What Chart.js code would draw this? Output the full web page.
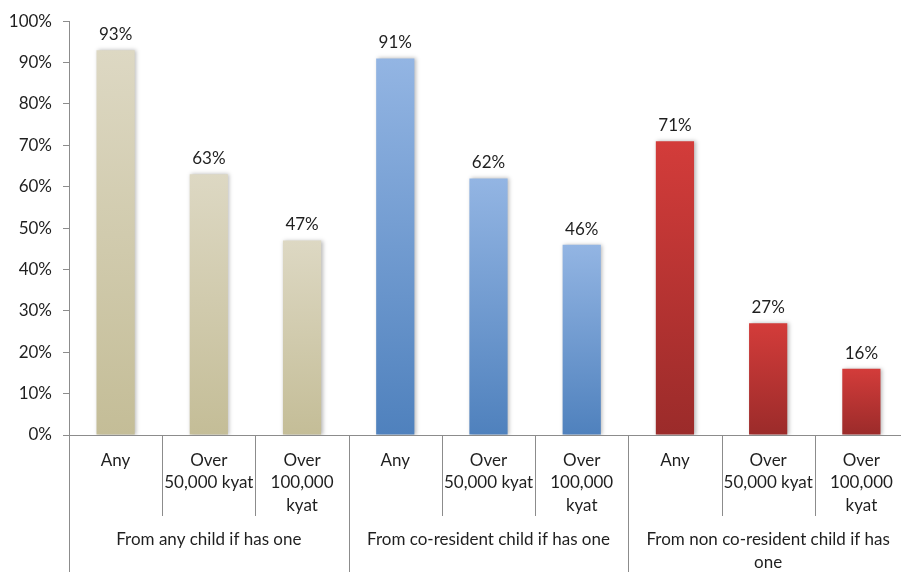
<!DOCTYPE html>
<html>
<head>
<meta charset="utf-8">
<script src="https://cdn.jsdelivr.net/npm/chart.js@4/dist/chart.umd.min.js"></script>
<style>
  html, body { margin: 0; padding: 0; background: #ffffff; overflow: hidden; }
  #wrap { width: 912px; height: 572px; position: relative; }
</style>
</head>
<body>
<div id="wrap"><canvas id="c"></canvas></div>
<script>
// ---- data ----
const subLabels = [
  ["Any"], ["Over", "50,000 kyat"], ["Over", "100,000", "kyat"],
  ["Any"], ["Over", "50,000 kyat"], ["Over", "100,000", "kyat"],
  ["Any"], ["Over", "50,000 kyat"], ["Over", "100,000", "kyat"]
];
const groupLabels = [
  ["From any child if has one"],
  ["From co-resident child if has one"],
  ["From non co-resident child if has", "one"]
];
const groupSize = 3;
const values = [93, 63, 47, 91, 62, 46, 71, 27, 16];
const yTicks = [0, 10, 20, 30, 40, 50, 60, 70, 80, 90, 100];

// styles
const groupGradients = [
  ["#ddd8c3", "#c4bd97"],
  ["#93b5e3", "#4f81bd"],
  ["#d33c3a", "#9b2b2a"]
];
const FONT = "Lato, 'Open Sans', sans-serif";
const TEXT = "#1f1f1f";
const AXIS = "#8c8c8c";

function barFill(ctx) {
  const chart = ctx.chart;
  const g = groupGradients[Math.floor(ctx.dataIndex / groupSize)];
  if (!chart.chartArea) return g[1];
  const y = chart.scales.y;
  const top = y.getPixelForValue(ctx.raw);
  const bot = y.getPixelForValue(0);
  const grad = chart.ctx.createLinearGradient(0, top, 0, bot);
  grad.addColorStop(0, g[0]);
  grad.addColorStop(1, g[1]);
  return grad;
}

const shadowPlugin = {
  id: 'shadow',
  beforeDatasetsDraw(chart) {
    const c = chart.ctx;
    c.save();
    c.shadowColor = 'rgba(0,0,0,0.28)';
    c.shadowBlur = 4;
    c.shadowOffsetX = 1.5;
    c.shadowOffsetY = 0;
  },
  afterDatasetsDraw(chart) {
    chart.ctx.restore();
  }
};

const labelPlugin = {
  id: 'valueLabels',
  afterDatasetsDraw(chart) {
    const c = chart.ctx;
    const meta = chart.getDatasetMeta(0);
    c.save();
    c.font = "17px " + FONT;
    c.fillStyle = TEXT;
    c.textAlign = 'center';
    c.textBaseline = 'bottom';
    meta.data.forEach((bar, i) => {
      c.fillText(values[i] + '%', bar.x, bar.y - 7);
    });
    c.restore();
  }
};

const groupAxisPlugin = {
  id: 'groupAxis',
  afterDraw(chart) {
    const c = chart.ctx;
    const area = chart.chartArea;
    const n = values.length;
    const w = (area.right - area.left) / n;
    c.save();
    c.strokeStyle = AXIS;
    c.lineWidth = 1;
    for (let i = 0; i <= n; i++) {
      const px = Math.round(area.left + i * w) + 0.5;
      const isGroup = i % groupSize === 0;
      c.beginPath();
      c.moveTo(px, area.bottom);
      c.lineTo(px, isGroup ? chart.height : 516);
      c.stroke();
    }
    c.font = "17px " + FONT;
    c.fillStyle = TEXT;
    c.textAlign = 'center';
    c.textBaseline = 'middle';
    groupLabels.forEach((lines, gi) => {
      const cx = area.left + (gi * groupSize + groupSize / 2) * w;
      lines.forEach((ln, li) => {
        c.fillText(ln, cx, 540 + li * 23);
      });
    });
    c.restore();
  }
};

new Chart(document.getElementById('c'), {
  type: 'bar',
  data: {
    labels: subLabels,
    datasets: [{
      data: values,
      backgroundColor: barFill,
      borderWidth: 0,
      categoryPercentage: 1.0,
      barPercentage: 0.41
    }]
  },
  options: {
    responsive: true,
    maintainAspectRatio: false,
    animation: false,
    events: [],
    layout: { padding: { top: 18, right: 4, left: 0, bottom: 0 } },
    plugins: { legend: { display: false }, tooltip: { enabled: false } },
    scales: {
      x: {
        offset: true,
        grid: { display: true, drawOnChartArea: false, drawTicks: false },
        border: { display: true, color: AXIS, width: 1 },
        ticks: {
          color: TEXT,
          font: { family: FONT, size: 17, lineHeight: 1.33 },
          padding: 14,
          maxRotation: 0,
          autoSkip: false
        },
        afterFit(scale) { scale.height = 137; }
      },
      y: {
        min: 0,
        max: 100,
        afterBuildTicks(scale) { scale.ticks = yTicks.map(v => ({ value: v })); },
        grid: { display: true, drawOnChartArea: false, drawTicks: true, tickLength: 6, color: AXIS },
        border: { display: true, color: AXIS, width: 1 },
        ticks: {
          color: TEXT,
          font: { family: FONT, size: 17 },
          padding: 11,
          callback: v => v + '%'
        },
        afterFit(scale) { scale.width = 69; }
      }
    }
  },
  plugins: [shadowPlugin, labelPlugin, groupAxisPlugin]
});
</script>
</body>
</html>
